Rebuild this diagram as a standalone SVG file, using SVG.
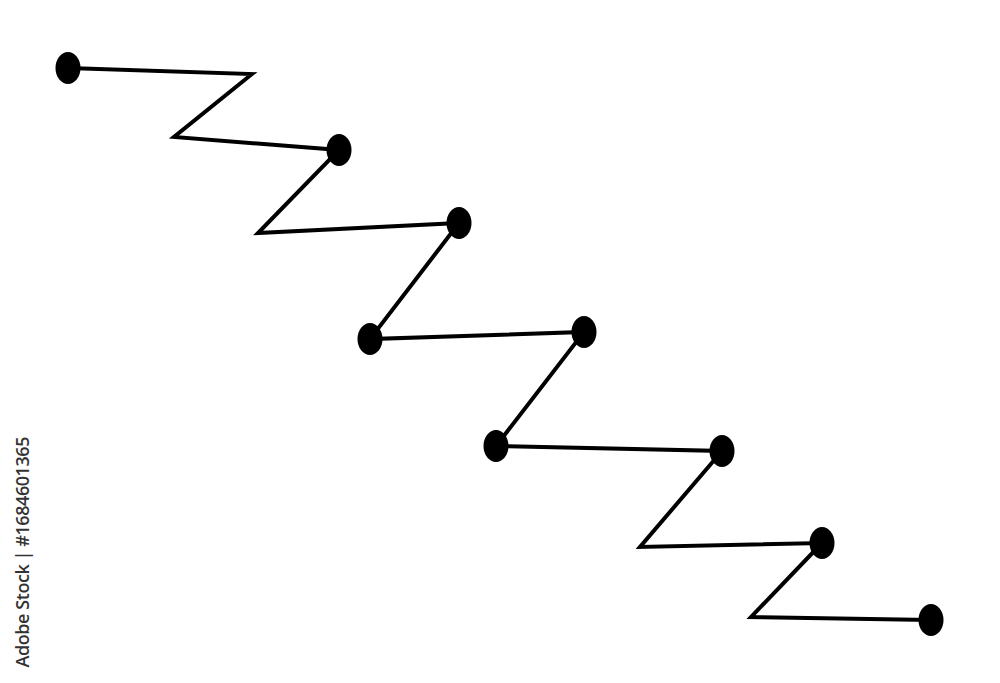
<svg xmlns="http://www.w3.org/2000/svg" width="1000" height="683" viewBox="0 0 1000 683">
<style>
.edge{fill:none;stroke:#000;stroke-width:4;stroke-linejoin:miter;stroke-linecap:round}
.dot{fill:#000}
.wm{font-family:"Open Sans","Liberation Sans",sans-serif;font-size:18px;font-weight:600;fill:#333}
</style>
<rect width="1000" height="683" fill="#fff"/>
<g id="connectors">
<polyline class="edge" points="68,68 252,74 174,137 339,150 258,233 459,223 370,339 584,332 496,446 722,451 640,547 822,543 751,617 931,620"/>
</g>
<g id="node1"><ellipse class="dot" cx="68" cy="68" rx="12.5" ry="16"/></g>
<g id="node2"><ellipse class="dot" cx="339" cy="150" rx="12.5" ry="16"/></g>
<g id="node3"><ellipse class="dot" cx="459" cy="223" rx="12.5" ry="16"/></g>
<g id="node4"><ellipse class="dot" cx="370" cy="339" rx="12.5" ry="16"/></g>
<g id="node5"><ellipse class="dot" cx="584" cy="332" rx="12.5" ry="16"/></g>
<g id="node6"><ellipse class="dot" cx="496" cy="446" rx="12.5" ry="16"/></g>
<g id="node7"><ellipse class="dot" cx="722" cy="451" rx="12.5" ry="16"/></g>
<g id="node8"><ellipse class="dot" cx="822" cy="543" rx="12.5" ry="16"/></g>
<g id="node9"><ellipse class="dot" cx="931" cy="620" rx="12.5" ry="16"/></g>
<g id="watermark">
<text class="wm" transform="translate(29,552) rotate(-90)" text-anchor="middle" textLength="231" lengthAdjust="spacing">Adobe Stock | #1684601365</text>
</g>
</svg>
